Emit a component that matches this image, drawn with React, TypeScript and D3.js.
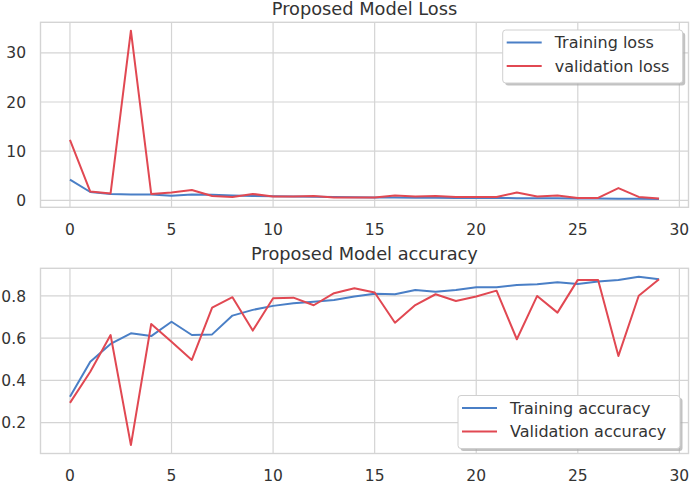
import React from "react";
import * as d3 from "d3";

// Training history over 30 epochs
const epochs = d3.range(30);
const trainLoss = [4.2, 1.7, 1.3, 1.2, 1.2, 0.95, 1.2, 1.15, 1.0, 0.9, 0.85, 0.8, 0.75, 0.7, 0.65, 0.6, 0.6, 0.55, 0.55, 0.5, 0.5, 0.5, 0.45, 0.45, 0.42, 0.4, 0.4, 0.35, 0.35, 0.3];
const valLoss = [12.3, 1.8, 1.4, 34.5, 1.3, 1.6, 2.1, 0.9, 0.7, 1.3, 0.8, 0.8, 0.9, 0.6, 0.6, 0.6, 1.0, 0.8, 0.9, 0.7, 0.7, 0.7, 1.6, 0.8, 1.0, 0.5, 0.5, 2.5, 0.7, 0.4];
const trainAcc = [0.323, 0.489, 0.573, 0.623, 0.61, 0.678, 0.615, 0.618, 0.707, 0.734, 0.753, 0.765, 0.773, 0.781, 0.797, 0.81, 0.808, 0.828, 0.82, 0.828, 0.841, 0.841, 0.852, 0.855, 0.865, 0.857, 0.868, 0.876, 0.891, 0.879];
const valAcc = [0.294, 0.441, 0.615, 0.094, 0.667, 0.583, 0.497, 0.745, 0.794, 0.636, 0.789, 0.792, 0.756, 0.813, 0.836, 0.816, 0.673, 0.757, 0.808, 0.776, 0.797, 0.825, 0.595, 0.8, 0.721, 0.876, 0.876, 0.516, 0.801, 0.879];

const xTicks = [0, 5, 10, 15, 20, 25, 30];
const lossTicks = [0, 10, 20, 30];
const accTicks = [0.2, 0.4, 0.6, 0.8];

const lossTitle = "Proposed Model Loss";
const accTitle = "Proposed Model accuracy";
const lossLabels = ["Training loss", "validation loss"];
const accLabels = ["Training accuracy", "Validation accuracy"];

const BLUE = "#4a7fc6";
const RED = "#e14852";
const GRID = "#d4d4d4";
const TEXT = "#333333";
const FONT = "'DejaVu Sans', sans-serif";

const W = 690;
const H = 482;
const LEFT = 40.5;
const RIGHT = 688.5;

// matplotlib-style auto limits: 5% margin on each side of the data range
function padded(values: number[]): [number, number] {
  const lo = d3.min(values) as number;
  const hi = d3.max(values) as number;
  const m = (hi - lo) * 0.05;
  return [lo - m, hi + m];
}

const xScale = d3
  .scaleLinear()
  .domain(padded(epochs))
  .range([LEFT, RIGHT]);

type PanelProps = {
  top: number;
  bottom: number;
  title: string;
  titleY: number;
  a: number[];
  b: number[];
  yTicks: number[];
  yFmt: (v: number) => string;
  labels: string[];
  legend: { x: number; y: number; w: number };
  xLabelY: number;
};

function Panel(p: PanelProps) {
  const y = d3
    .scaleLinear()
    .domain(padded([...p.a, ...p.b]))
    .range([p.bottom, p.top]);
  const line = d3
    .line<number>()
    .x((_, i) => xScale(epochs[i]))
    .y((v) => y(v));
  const lg = p.legend;
  const lh = 53;
  return (
    <g>
      <rect x={LEFT} y={p.top} width={RIGHT - LEFT} height={p.bottom - p.top} fill="#fff" />
      {xTicks.map((t) => (
        <line key={"gx" + t} x1={xScale(t)} x2={xScale(t)} y1={p.top} y2={p.bottom} stroke={GRID} strokeWidth={1.2} />
      ))}
      {p.yTicks.map((t) => (
        <line key={"gy" + t} x1={LEFT} x2={RIGHT} y1={y(t)} y2={y(t)} stroke={GRID} strokeWidth={1.2} />
      ))}
      <rect x={LEFT} y={p.top} width={RIGHT - LEFT} height={p.bottom - p.top} fill="none" stroke={GRID} strokeWidth={1.4} />
      <path d={line(p.a) || ""} fill="none" stroke={BLUE} strokeWidth={2} strokeLinejoin="round" />
      <path d={line(p.b) || ""} fill="none" stroke={RED} strokeWidth={2} strokeLinejoin="round" />
      {xTicks.map((t) => (
        <text key={"tx" + t} x={xScale(t)} y={p.xLabelY} textAnchor="middle" fontSize={15.5} fill={TEXT} fontFamily={FONT}>
          {String(t)}
        </text>
      ))}
      {p.yTicks.map((t) => (
        <text key={"ty" + t} x={LEFT - 14.5} y={y(t)} dy="0.36em" textAnchor="end" fontSize={15.5} fill={TEXT} fontFamily={FONT}>
          {p.yFmt(t)}
        </text>
      ))}
      <text x={(LEFT + RIGHT) / 2} y={p.titleY} textAnchor="middle" fontSize={17.8} fill={TEXT} fontFamily={FONT}>
        {p.title}
      </text>
      <g>
        <rect x={lg.x + 2.5} y={lg.y + 2.5} width={lg.w} height={lh} rx={3} fill="#a8a8a8" opacity={0.7} />
        <rect x={lg.x} y={lg.y} width={lg.w} height={lh} rx={3} fill="#fff" stroke="#d0d0d0" strokeWidth={1} />
        {p.labels.map((label, i) => {
          const cy = lg.y + 12.5 + i * 23.5;
          return (
            <g key={label}>
              <line x1={lg.x + 4} x2={lg.x + 39} y1={cy} y2={cy} stroke={i === 0 ? BLUE : RED} strokeWidth={2} />
              <text x={lg.x + 52} y={cy} dy="0.36em" fontSize={16} fill={TEXT} fontFamily={FONT}>
                {label}
              </text>
            </g>
          );
        })}
      </g>
    </g>
  );
}

export default function App() {
  return (
    <svg
      width={W}
      height={H}
      viewBox={`0 0 ${W} ${H}`}
      style={{ position: "absolute", left: 0, top: 0, background: "#fff" }}
    >
      <rect width={W} height={H} fill="#fff" />
      <Panel
        top={22.3}
        bottom={207.3}
        title={lossTitle}
        titleY={14.7}
        a={trainLoss}
        b={valLoss}
        yTicks={lossTicks}
        yFmt={(v) => d3.format("d")(v)}
        labels={lossLabels}
        legend={{ x: 502.7, y: 30, w: 180 }}
        xLabelY={235}
      />
      <Panel
        top={268.3}
        bottom={453.5}
        title={accTitle}
        titleY={259.5}
        a={trainAcc}
        b={valAcc}
        yTicks={accTicks}
        yFmt={(v) => d3.format(".1f")(v)}
        labels={accLabels}
        legend={{ x: 458, y: 395.5, w: 222 }}
        xLabelY={480.5}
      />
    </svg>
  );
}
